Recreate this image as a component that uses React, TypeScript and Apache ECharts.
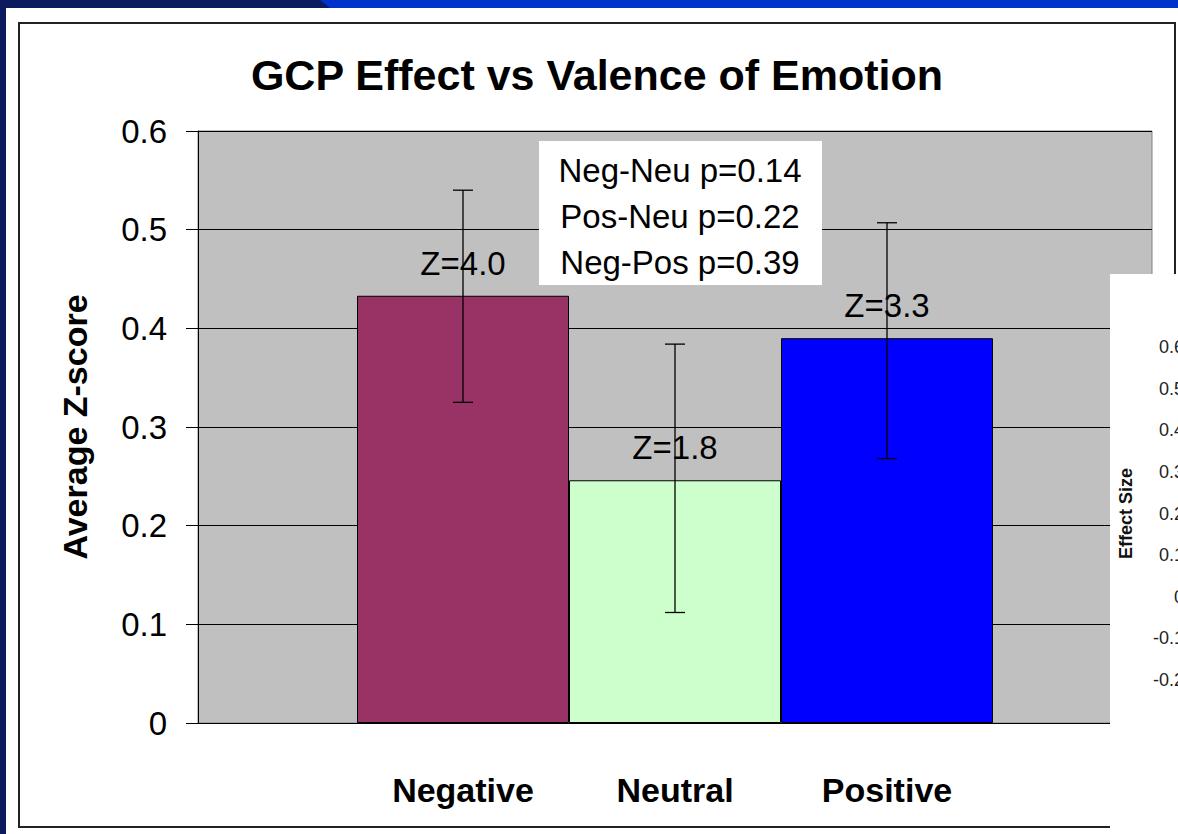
import React, { useEffect, useRef } from "react";
import * as echarts from "echarts";

const titleText = "GCP Effect vs Valence of Emotion";
const yAxisTitle = "Average Z-score";
const categories = ["Negative", "Neutral", "Positive"];
const means = [0.433, 0.246, 0.39];
const errLow = [0.325, 0.112, 0.268];
const errHigh = [0.54, 0.384, 0.507];
const zLabels = ["Z=4.0", "Z=1.8", "Z=3.3"];
const barColors = ["#993366", "#ccffcc", "#0000ff"];
const pValueLines = ["Neg-Neu p=0.14", "Pos-Neu p=0.22", "Neg-Pos p=0.39"];
const yMin = 0;
const yMax = 0.6;
const yStep = 0.1;

// partially visible second chart at right edge
const sideAxisTitle = "Effect Size";
const sideMin = -0.2;
const sideMax = 0.6;
const sideStep = 0.1;

const FONT = "'Liberation Sans', Arial, sans-serif";

export default function App() {
  const ref = useRef<HTMLDivElement>(null);

  useEffect(() => {
    if (!ref.current) return;
    const chart = echarts.init(ref.current, undefined, { renderer: "svg" });

    const option: any = {
      animation: false,
      backgroundColor: "#0b1b5e",
      textStyle: { fontFamily: FONT },
      title: {
        text: titleText,
        left: 597,
        top: 53,
        textAlign: "center",
        padding: 0,
        textStyle: { fontSize: 43, fontWeight: "bold", color: "#000", fontFamily: FONT },
      },
      grid: [
        {
          left: 198,
          top: 131,
          width: 954,
          height: 592,
          show: true,
          backgroundColor: "#c0c0c0",
          borderColor: "#808080",
          borderWidth: 1,
        },
        { left: 357, top: 131, width: 636, height: 592 },
        { left: 1192, top: 347, width: 100, height: 333 },
      ],
      xAxis: [
        {
          gridIndex: 0,
          type: "value",
          min: 0,
          max: 1,
          axisLine: { show: true, lineStyle: { color: "#000", width: 1 } },
          axisTick: { show: false },
          axisLabel: { show: false },
          splitLine: { show: false },
        },
        {
          gridIndex: 1,
          type: "category",
          data: categories,
          axisLine: { show: false },
          axisTick: { show: false },
          axisLabel: {
            margin: 50,
            fontSize: 34,
            fontWeight: "bold",
            color: "#000",
            fontFamily: FONT,
          },
        },
        { gridIndex: 2, type: "value", show: false, min: 0, max: 1 },
      ],
      yAxis: [
        {
          gridIndex: 0,
          type: "value",
          min: yMin,
          max: yMax,
          interval: yStep,
          name: yAxisTitle,
          nameLocation: "middle",
          nameGap: 106,
          nameRotate: 90,
          nameTextStyle: { fontSize: 34, fontWeight: "bold", color: "#000", fontFamily: FONT },
          axisLine: { show: true, lineStyle: { color: "#000", width: 1 } },
          axisTick: { show: true, length: 12, lineStyle: { color: "#000", width: 1 } },
          axisLabel: { margin: 31, fontSize: 33, color: "#000", fontFamily: FONT },
          splitLine: { show: true, lineStyle: { color: "#000", width: 1 } },
        },
        { gridIndex: 1, type: "value", min: yMin, max: yMax, show: false },
        {
          gridIndex: 2,
          type: "value",
          min: sideMin,
          max: sideMax,
          interval: sideStep,
          z: 20,
          name: sideAxisTitle,
          nameLocation: "middle",
          nameGap: 57,
          nameRotate: 90,
          nameTextStyle: { fontSize: 18, fontWeight: "bold", color: "#111", fontFamily: FONT },
          axisLine: { show: false },
          axisTick: { show: false },
          axisLabel: { margin: 8, fontSize: 18, color: "#222", fontFamily: FONT },
          splitLine: { show: false },
        },
      ],
      graphic: [
        // slide
        {
          type: "polygon",
          z: -10,
          shape: { points: [[320, 0], [1178, 0], [1178, 8], [330, 8]] },
          style: { fill: "#0033cc" },
        },
        {
          type: "rect",
          z: -10,
          shape: { x: 6, y: 8, width: 1172, height: 826 },
          style: { fill: "#ffffff" },
        },
        {
          type: "rect",
          z: -9,
          shape: { x: 19, y: 23, width: 1156, height: 804 },
          style: { fill: "#ffffff", stroke: "#222", lineWidth: 2 },
        },
        // p-value text box
        {
          type: "rect",
          z: 4,
          shape: { x: 539, y: 141, width: 283, height: 144 },
          style: { fill: "#ffffff" },
        },
        ...pValueLines.map((t, i) => ({
          type: "text",
          z: 4,
          x: 680,
          y: 170 + i * 46,
          style: {
            text: t,
            fontSize: 33,
            fontFamily: FONT,
            fill: "#000",
            textAlign: "center",
            textVerticalAlign: "middle",
          },
        })),
        // overlapping card of another chart
        {
          type: "rect",
          z: 6,
          shape: { x: 1110, y: 274, width: 68, height: 560 },
          style: { fill: "#ffffff" },
        },
      ],
      series: [
        {
          type: "bar",
          xAxisIndex: 1,
          yAxisIndex: 1,
          barWidth: "100%",
          data: means.map((v, i) => ({
            value: v,
            itemStyle: { color: barColors[i], borderColor: "#000", borderWidth: 1 },
          })),
          label: {
            show: true,
            position: "top",
            distance: 16,
            formatter: (p: any) => zLabels[p.dataIndex],
            fontSize: 33,
            color: "#000",
            fontFamily: FONT,
          },
        },
        {
          type: "custom",
          xAxisIndex: 1,
          yAxisIndex: 1,
          z: 5,
          data: categories.map((_, i) => [i, errLow[i], errHigh[i]]),
          encode: { x: 0, y: [1, 2] },
          renderItem: (params: any, api: any) => {
            const idx = api.value(0);
            const lo = api.coord([idx, api.value(1)]);
            const hi = api.coord([idx, api.value(2)]);
            const half = 10;
            const st = { stroke: "#000", lineWidth: 1.3 };
            return {
              type: "group",
              children: [
                { type: "line", shape: { x1: lo[0], y1: lo[1], x2: hi[0], y2: hi[1] }, style: st },
                { type: "line", shape: { x1: hi[0] - half, y1: hi[1], x2: hi[0] + half, y2: hi[1] }, style: st },
                { type: "line", shape: { x1: lo[0] - half, y1: lo[1], x2: lo[0] + half, y2: lo[1] }, style: st },
              ],
            };
          },
        },
      ],
    };

    chart.setOption(option);
    return () => chart.dispose();
  }, []);

  return (
    <div
      ref={ref}
      style={{ position: "absolute", left: 0, top: 0, width: 1178, height: 834 }}
    />
  );
}
